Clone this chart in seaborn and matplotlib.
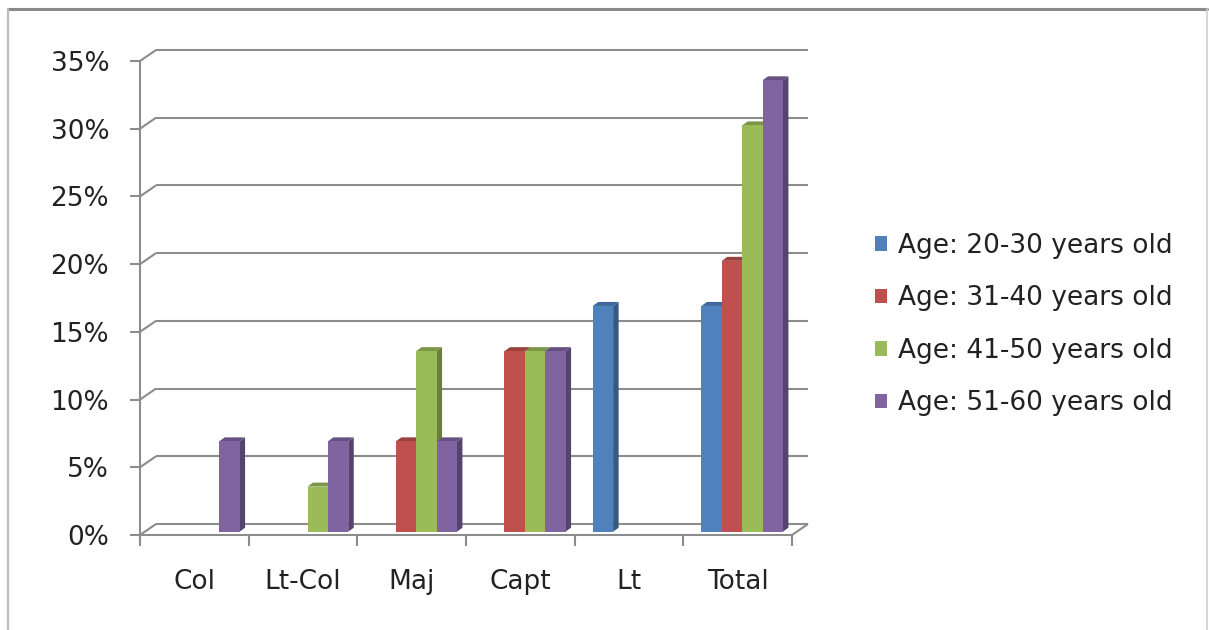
import numpy as np
import pandas as pd
import seaborn as sns
import matplotlib
matplotlib.use("Agg")
import matplotlib.pyplot as plt
import matplotlib.colors as mcolors
from matplotlib.patches import Polygon, Patch
from matplotlib.lines import Line2D
from matplotlib.transforms import ScaledTranslation, IdentityTransform

# ---- data (percent of officers in each rank, by age group) ----
ranks = ["Col", "Lt-Col", "Maj", "Capt", "Lt", "Total"]
age_groups = ["Age: 20-30 years old", "Age: 31-40 years old",
              "Age: 41-50 years old", "Age: 51-60 years old"]
age_20_30 = [0.0, 0.0, 0.0, 0.0, 16.67, 16.67]
age_31_40 = [0.0, 0.0, 6.67, 13.33, 0.0, 20.0]
age_41_50 = [0.0, 3.33, 13.33, 13.33, 0.0, 30.0]
age_51_60 = [6.67, 6.67, 6.67, 13.33, 0.0, 33.33]
y_ticks = [0, 5, 10, 15, 20, 25, 30, 35]
y_tick_labels = ["0%", "5%", "10%", "15%", "20%", "25%", "30%", "35%"]
colors = ["#4F81BD", "#C0504D", "#9BBB59", "#8064A2"]

df = pd.DataFrame({
    "rank": ranks * 4,
    "age": np.repeat(age_groups, len(ranks)),
    "value": age_20_30 + age_31_40 + age_41_50 + age_51_60,
})

W, H, DPI = 1209, 630, 100
GRID = "#8C8C8C"
TEXT = "#222222"
FS = 19

sns.set_theme(style="white")
plt.rcParams["font.family"] = ["DejaVu Sans"]

fig = plt.figure(figsize=(W / DPI, H / DPI), dpi=DPI)
ax = fig.add_axes([140 / W, 95 / H, (792 - 140) / W, (535 - 61) / H])

sns.barplot(data=df, x="rank", y="value", hue="age", order=ranks,
            hue_order=age_groups, palette=colors, saturation=1,
            width=0.75, linewidth=0, edgecolor="none", legend=False, ax=ax)

ax.set_xlim(-0.5, len(ranks) - 0.5)
ax.set_ylim(0, 35)
for s in ax.spines.values():
    s.set_visible(False)
ax.set_xlabel("")
ax.set_ylabel("")
ax.set_facecolor("none")

# y axis ticks / labels
ax.set_yticks(y_ticks)
ax.set_yticklabels(y_tick_labels)
ax.tick_params(axis="y", length=7.2, width=1.5, color=GRID, pad=15,
               labelsize=FS, labelcolor=TEXT, left=True)
# x labels at the category centres, tick marks on the boundaries
ax.set_xticks(range(len(ranks)))
ax.set_xticklabels(ranks)
ax.set_xticks(np.arange(-0.5, len(ranks)), minor=True)
ax.tick_params(axis="x", which="major", length=0, pad=24.5, labelsize=FS,
               labelcolor=TEXT)
ax.tick_params(axis="x", which="minor", length=8, width=1.5, color=GRID,
               bottom=True)
ax.grid(False)

fig.canvas.draw()

# depth vectors in pixels (display coords, y up)
wall_dx, wall_dy = 16, 11      # floor / back wall depth
face_dx, face_dy = 4.5, 3.3    # front face of the columns
bar_dx, bar_dy = 5.5, 4.0      # thickness of a column

to_disp = ax.transData.transform
x_left, y0 = to_disp((-0.5, 0))
x_right, _ = to_disp((len(ranks) - 0.5, 0))
ident = IdentityTransform()


def seg(p, q, **kw):
    ln = Line2D([p[0], q[0]], [p[1], q[1]], transform=ident, color=GRID,
                linewidth=1.5, solid_capstyle="butt", clip_on=False, **kw)
    ax.add_artist(ln)


# back wall gridlines with the diagonal joining each tick
for t in y_ticks:
    _, yt = to_disp((-0.5, t))
    seg((x_left, yt), (x_left + wall_dx, yt + wall_dy), zorder=0.5)
    seg((x_left + wall_dx, yt + wall_dy), (x_right + wall_dx, yt + wall_dy),
        zorder=0.5)
# floor front edge, right edge and the vertical axis
seg((x_left, y0), (x_right, y0), zorder=0.6)
seg((x_right, y0), (x_right + wall_dx, y0 + wall_dy), zorder=0.6)
_, y_top = to_disp((-0.5, 35))
seg((x_left, y0 - 8), (x_left, y_top), zorder=0.6)


def shade(c, f):
    r, g, b = mcolors.to_rgb(c)
    return (r * f, g * f, b * f)


# give each column a front offset, a darker side and a top face
offset = ScaledTranslation(face_dx / DPI, face_dy / DPI, fig.dpi_scale_trans)
rgb_list = [mcolors.to_rgb(c) for c in colors]
for bar in list(ax.patches):
    h = bar.get_height()
    if not np.isfinite(h) or h <= 0:
        bar.set_visible(False)
        continue
    col = mcolors.to_rgb(bar.get_facecolor())
    k = int(np.argmin([np.sum((np.array(col) - np.array(c)) ** 2)
                       for c in rgb_list]))
    bar.set_transform(ax.transData + offset)
    bar.set_zorder(3 + 0.1 * k)
    x0, x1 = bar.get_x(), bar.get_x() + bar.get_width()
    (ax0, ay0), (ax1, ay1) = to_disp([(x0, 0), (x1, h)])
    ax0 += face_dx; ax1 += face_dx; ay0 += face_dy; ay1 += face_dy
    side = Polygon([(ax1, ay0), (ax1 + bar_dx, ay0 + bar_dy),
                    (ax1 + bar_dx, ay1 + bar_dy), (ax1, ay1)],
                   closed=True, transform=ident, facecolor=shade(col, 0.68),
                   edgecolor="none", zorder=3 + 0.1 * k - 0.05, clip_on=False)
    top = Polygon([(ax0, ay1), (ax1, ay1), (ax1 + bar_dx, ay1 + bar_dy),
                   (ax0 + bar_dx, ay1 + bar_dy)],
                  closed=True, transform=ident, facecolor=shade(col, 0.8),
                  edgecolor="none", zorder=3 + 0.1 * k - 0.05, clip_on=False)
    ax.add_patch(side)
    ax.add_patch(top)

# legend on the right
handles = [Patch(facecolor=c, edgecolor="none") for c in colors]
fig.legend(handles, age_groups, loc="upper left",
           bbox_to_anchor=(875 / W, 1 - 233 / H), frameon=False,
           fontsize=FS, handlelength=0.46, handleheight=0.46,
           handletextpad=0.4, labelspacing=1.0, borderaxespad=0,
           borderpad=0, labelcolor=TEXT)

# outer chart border
fig.add_artist(Line2D([8 / W, 1207 / W], [1 - 9 / H, 1 - 9 / H],
                      transform=fig.transFigure, color="#8A8A8A", linewidth=2.2))
fig.add_artist(Line2D([8 / W, 8 / W], [1 - 9 / H, 0],
                      transform=fig.transFigure, color="#BDBDBD", linewidth=1.6))
fig.add_artist(Line2D([1207 / W, 1207 / W], [1 - 9 / H, 0],
                      transform=fig.transFigure, color="#D0D0D0", linewidth=1.2))

fig.savefig("out.png", dpi=DPI, facecolor="white")
